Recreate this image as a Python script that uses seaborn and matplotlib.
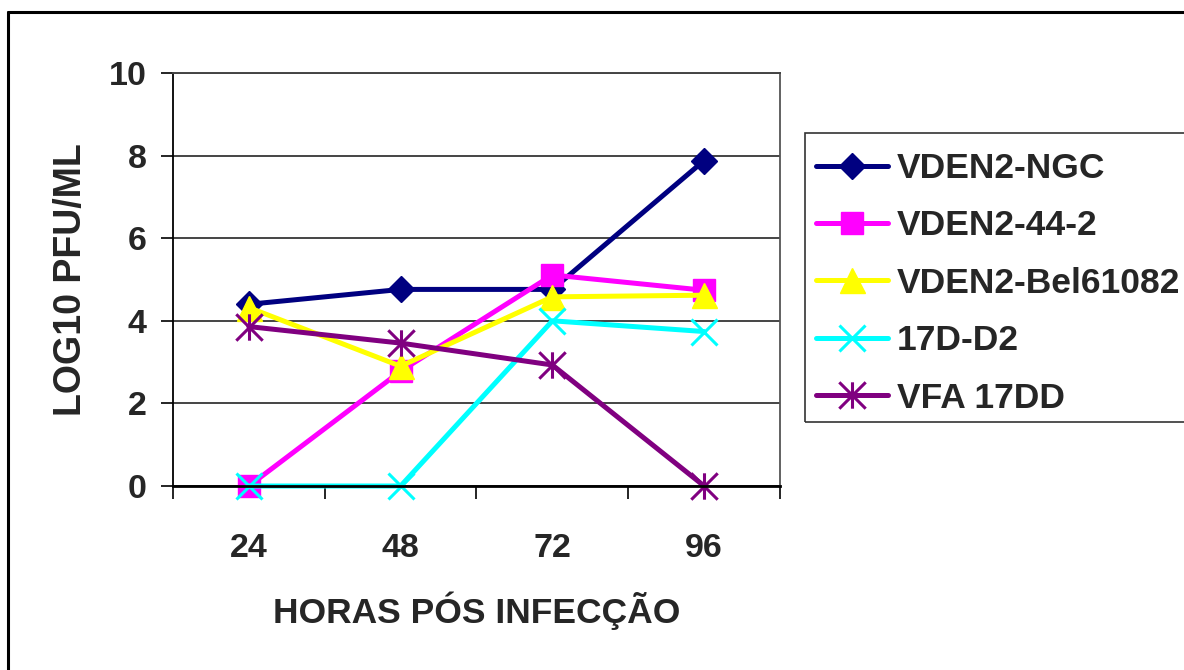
import numpy as np
import pandas as pd
import seaborn as sns
import matplotlib.pyplot as plt
from matplotlib.path import Path
from matplotlib.lines import Line2D
from matplotlib.patches import Rectangle

# ############### Data ###############
hours = [24, 48, 72, 96]
ngc = [4.40, 4.76, 4.76, 7.88]
d44_2 = [0.0, 2.78, 5.11, 4.74]
bel61082 = [4.32, 2.90, 4.58, 4.62]
d17_d2 = [0.0, 0.0, 4.00, 3.74]
vfa_17dd = [3.86, 3.46, 2.93, 0.0]

series_names = ['VDEN2-NGC', 'VDEN2-44-2', 'VDEN2-Bel61082', '17D-D2', 'VFA 17DD']
series_values = [ngc, d44_2, bel61082, d17_d2, vfa_17dd]
y_ticks = [0, 2, 4, 6, 8, 10]

# Excel style star: an x with a vertical bar through it
star = Path([(-1, -1), (1, 1), (-1, 1), (1, -1), (0, -1), (0, 1)],
            [Path.MOVETO, Path.LINETO] * 3)

styles = [
    dict(color='#000080', marker='D', ms=13.5, mfc='#000080', mec='#000080', mew=1),
    dict(color='#FF00FF', marker='s', ms=16.5, mfc='#FF00FF', mec='#FF00FF', mew=1),
    dict(color='#FFFF00', marker='^', ms=18, mfc='#FFFF00', mec='#FFFF00', mew=1),
    dict(color='#00FFFF', marker='x', ms=19, mfc='none', mec='#00FFFF', mew=2.2),
    dict(color='#800080', marker=star, ms=19, mfc='none', mec='#800080', mew=2.2),
]

# ############### Plot ###############
sns.set_style('white')
plt.rcParams['font.family'] = ['Liberation Sans', 'DejaVu Sans']
plt.rcParams['font.weight'] = 'bold'

fig = plt.figure(figsize=(11.84, 6.70), dpi=100)
ax = fig.add_axes([173 / 1184, 1 - 486 / 670, 607 / 1184, 413 / 670])

for name, vals, st in zip(series_names, series_values, styles):
    df = pd.DataFrame({'hours': hours, 'pfu': vals})
    sns.lineplot(data=df, x='hours', y='pfu', ax=ax, errorbar=None, lw=3.6,
                 color=st['color'], marker=st['marker'], markersize=st['ms'],
                 markerfacecolor=st['mfc'], markeredgecolor=st['mec'],
                 markeredgewidth=st['mew'], label=name, clip_on=False)

ax.set_xlim(12, 108)
ax.set_ylim(0, 10)
ax.set_yticks(y_ticks)
ax.set_xticks(hours)
ax.set_xticks([12, 36, 60, 84, 108], minor=True)
ax.tick_params(axis='x', which='major', length=0, pad=34, labelsize=24.5)
ax.tick_params(axis='x', which='minor', length=9, width=1.2, direction='out',
               color='black', bottom=True)
ax.tick_params(axis='y', which='major', length=9, width=1.2, direction='out',
               color='black', left=True, pad=10, labelsize=24.5)
for lab in ax.get_xticklabels() + ax.get_yticklabels():
    lab.set_fontweight('bold')

ax.grid(axis='y', color='#444444', lw=1.4)
ax.grid(axis='x', visible=False)
ax.spines['left'].set_color('black')
ax.spines['left'].set_linewidth(1.3)
ax.spines['bottom'].set_color('black')
ax.spines['bottom'].set_linewidth(2)
ax.spines['bottom'].set_zorder(2.5)
ax.spines['top'].set_color('#444444')
ax.spines['top'].set_linewidth(1.4)
ax.spines['right'].set_color('#555555')
ax.spines['right'].set_linewidth(1.3)

ax.set_xlabel('HORAS PÓS INFECÇÃO', fontsize=25.5, fontweight='bold')
ax.set_ylabel('LOG10 PFU/ML', fontsize=27, fontweight='bold')
ax.xaxis.set_label_coords(0.5, -0.255)
ax.yaxis.set_label_coords(-0.138, 0.5)

# legend without its own frame; the box is drawn separately (cut at the right edge)
leg = ax.legend(loc='upper left', bbox_to_anchor=(816 / 1184, 1 - 152 / 670),
                bbox_transform=fig.transFigure, frameon=False, borderaxespad=0,
                borderpad=0, handlelength=2.03, handletextpad=0.25, labelspacing=0.69,
                prop={'size': 25.5, 'weight': 'bold'})
fig.add_artist(Rectangle((805 / 1184, 1 - 422 / 670), 420 / 1184, 289 / 670,
                         transform=fig.transFigure, fill=False, edgecolor='#333333',
                         lw=1.2))

# outer chart frame (cut off at the right and bottom edges)
fig.add_artist(Line2D([8 / 1184, 8 / 1184], [0, 1 - 12 / 670], color='black',
                      lw=2.2, transform=fig.transFigure))
fig.add_artist(Line2D([8 / 1184, 1], [1 - 12 / 670, 1 - 12 / 670], color='black',
                      lw=2.2, transform=fig.transFigure))

fig.savefig('out.png', dpi=100)
